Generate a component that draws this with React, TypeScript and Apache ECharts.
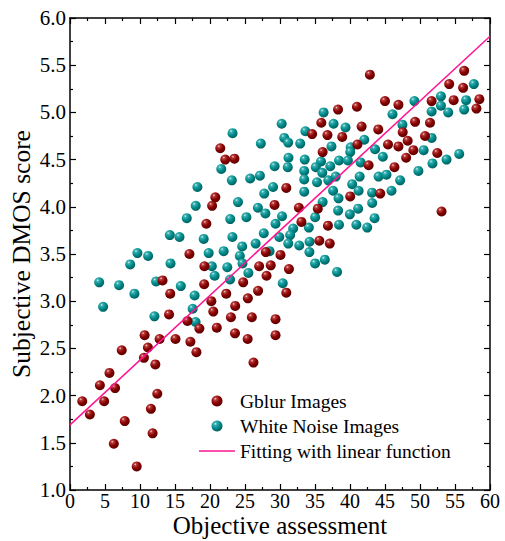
import React, { useEffect, useRef } from "react";
import * as echarts from "echarts";

const xTicks = { min: 0, max: 60, interval: 5 };
const yTicks = { min: 1, max: 6, interval: 0.5 };

const gblurPoints: [number, number][] = [
  [17.06, 3.5], [19.2, 3.37], [13.22, 3.22], [19.17, 3.18], [14.32, 3.08], [14.15, 2.86], [16.78, 2.79], [18.48, 2.71],
  [10.66, 2.64], [12.8, 2.6], [15.07, 2.6], [17.2, 2.57], [18.06, 2.46], [7.39, 2.48], [11.13, 2.51], [10.56, 2.4],
  [12.19, 2.33], [5.64, 2.24], [4.27, 2.11], [6.44, 2.08], [1.75, 1.94], [4.88, 1.94], [12.47, 2.02], [2.84, 1.8],
  [11.56, 1.86], [7.82, 1.73], [11.8, 1.6], [6.26, 1.49], [9.53, 1.25],
  [21.47, 4.62], [22.18, 4.5], [23.49, 4.51], [20.76, 4.1], [20.3, 4.01], [19.48, 3.82], [29.22, 4.02],
  [22.32, 3.08], [20.19, 3.0], [24.74, 3.2], [27.02, 3.37], [28.68, 3.38], [28.08, 3.27], [26.87, 3.11], [25.41, 3.03],
  [23.6, 2.95], [20.47, 2.89], [22.99, 2.83], [25.98, 2.83], [29.36, 2.81], [20.97, 2.72], [23.57, 2.66], [25.38, 2.6],
  [29.36, 2.64],
  [38.29, 5.03], [35.9, 4.89], [36.78, 4.76], [34.59, 4.77], [38.89, 4.74], [36.09, 4.58], [30.9, 4.2], [32.7, 3.99],
  [35.4, 3.98], [33.06, 3.84], [36.85, 3.8], [40.03, 4.11], [35.62, 3.64], [37.11, 3.61], [27.97, 3.52], [30.07, 3.49],
  [31.28, 3.34], [30.9, 3.09], [26.21, 2.35],
  [42.84, 5.4], [56.31, 5.44], [54.17, 5.3], [56.16, 5.26], [58.48, 5.14], [58.06, 5.04], [54.81, 5.13], [51.66, 5.12],
  [45.0, 5.12], [46.92, 5.08], [40.99, 5.06], [49.3, 4.9], [51.43, 4.89], [41.66, 4.85], [44.04, 4.82], [47.53, 4.79],
  [48.24, 4.7], [50.72, 4.75], [41.06, 4.66], [45.43, 4.66], [46.92, 4.64], [49.05, 4.6], [52.47, 4.57], [48.02, 4.52],
  [42.66, 4.44], [46.35, 4.42], [44.32, 4.14], [53.08, 3.95],
];

const noisePoints: [number, number][] = [
  [9.63, 3.51], [11.16, 3.48], [8.6, 3.39], [14.36, 3.4], [4.17, 3.2], [7.01, 3.17], [9.2, 3.08], [12.3, 3.21],
  [15.83, 3.16], [4.73, 2.94], [12.06, 2.84], [17.8, 3.06], [17.52, 2.92], [17.94, 2.78],
  [21.61, 4.4], [29.23, 4.43], [23.12, 4.28], [25.74, 4.3], [27.13, 4.33], [18.2, 4.21], [29.01, 4.21], [27.75, 4.14],
  [24.0, 4.05], [17.96, 4.01], [26.84, 3.99], [27.91, 3.93], [16.68, 3.88], [22.89, 3.87], [25.2, 3.89], [29.36, 3.82],
  [14.26, 3.7], [15.64, 3.68], [19.1, 3.66], [23.2, 3.68], [27.68, 3.72], [26.52, 3.61], [19.81, 3.51], [21.95, 3.53],
  [24.6, 3.58], [24.26, 3.48], [28.51, 3.53], [24.64, 3.4], [20.26, 3.37], [22.47, 3.36], [20.66, 3.27], [25.48, 3.3],
  [22.86, 3.23],
  [36.23, 5.0], [30.24, 4.88], [37.65, 4.88], [39.36, 4.84], [33.63, 4.8], [23.22, 4.78], [30.61, 4.73], [31.17, 4.68],
  [32.89, 4.67], [27.26, 4.67], [37.35, 4.64], [40.1, 4.63], [40.03, 4.58], [31.21, 4.52], [33.53, 4.5], [35.86, 4.48],
  [38.43, 4.49], [31.11, 4.42], [35.12, 4.42], [37.18, 4.43], [33.46, 4.38], [36.04, 4.36], [33.46, 4.29], [35.29, 4.26],
  [36.9, 4.28], [37.96, 4.32], [33.46, 4.16], [37.58, 4.17], [38.36, 4.09], [36.09, 4.05], [38.3, 3.96], [30.29, 3.9],
  [35.02, 3.89], [31.88, 3.77], [34.12, 3.78], [38.43, 3.81], [29.9, 3.68], [31.45, 3.7], [31.18, 3.61], [32.75, 3.59],
  [34.22, 3.63], [34.2, 3.52], [36.4, 3.44], [35.01, 3.4], [30.39, 3.19], [38.15, 3.31],
  [57.69, 5.3], [52.99, 5.17], [56.59, 5.13], [49.2, 5.12], [52.99, 5.07], [56.31, 5.03], [51.66, 5.01], [54.03, 5.0],
  [46.07, 4.98], [47.49, 4.87], [42.04, 4.71], [51.66, 4.73], [43.58, 4.61], [50.52, 4.6], [44.69, 4.53], [39.7, 4.49],
  [41.52, 4.47], [51.78, 4.46], [53.79, 4.5], [55.6, 4.56], [44.08, 4.32], [45.21, 4.34], [41.38, 4.32], [47.16, 4.28],
  [49.77, 4.38], [40.31, 4.24], [41.23, 4.17], [43.15, 4.15], [45.93, 4.17], [43.17, 4.04], [39.98, 3.92], [41.16, 3.98],
  [43.51, 3.88], [40.91, 3.81], [42.46, 3.78],
];

const fitIntercept = 1.69;
const fitSlope = 0.0686;
const fitXs = [0, 60];

const seriesNames = ["Gblur Images", "White Noise Images", "Fitting with linear function"];

const FONT = "Liberation Serif";

function sphere(light: string, mid: string, base: string, dark: string) {
  return new echarts.graphic.RadialGradient(0.35, 0.3, 0.75, [
    { offset: 0, color: light },
    { offset: 0.18, color: mid },
    { offset: 0.55, color: base },
    { offset: 1, color: dark },
  ]);
}

export default function App() {
  const ref = useRef<HTMLDivElement>(null);
  useEffect(() => {
    if (!ref.current) return;
    const chart = echarts.init(ref.current, undefined, { renderer: "svg" });
    const axisCommon = {
      axisLine: { show: true, onZero: false, lineStyle: { color: "#000", width: 1.5 } },
      axisTick: { show: true, inside: true, length: 6, lineStyle: { color: "#000", width: 1.2 } },
      minorTick: { show: true, splitNumber: 2, length: 3, lineStyle: { color: "#000", width: 1.2 } },
      splitLine: { show: false },
    };
    const redFill = sphere("#f0d0d0", "#b83a3a", "#870000", "#560000");
    const tealFill = sphere("#d8f4f4", "#3ab0b0", "#008a8a", "#005a5a");
    chart.setOption({
      animation: false,
      backgroundColor: "#fff",
      grid: { left: 70, right: 15, top: 18, bottom: 51, containLabel: false, outerBoundsMode: "none" },
      xAxis: [
        {
          type: "value",
          min: xTicks.min,
          max: xTicks.max,
          interval: xTicks.interval,
          position: "bottom",
          ...axisCommon,
          axisLabel: { color: "#000", fontFamily: FONT, fontSize: 20, margin: 1 },
          name: "Objective assessment",
          nameLocation: "middle",
          nameGap: 23,
          nameMoveOverlap: false,
          nameTextStyle: { color: "#000", fontFamily: FONT, fontSize: 25 },
        },
        {
          type: "value",
          min: xTicks.min,
          max: xTicks.max,
          interval: xTicks.interval,
          position: "top",
          ...axisCommon,
          axisLabel: { show: false },
        },
      ],
      yAxis: [
        {
          type: "value",
          min: yTicks.min,
          max: yTicks.max,
          interval: yTicks.interval,
          position: "left",
          ...axisCommon,
          axisLabel: {
            color: "#000",
            fontFamily: FONT,
            fontSize: 21,
            margin: 4,
            formatter: (v: number) => v.toFixed(1),
          },
          name: "Subjective DMOS score",
          nameLocation: "middle",
          nameGap: 36,
          nameMoveOverlap: false,
          nameTextStyle: { color: "#000", fontFamily: FONT, fontSize: 25.5 },
        },
        {
          type: "value",
          min: yTicks.min,
          max: yTicks.max,
          interval: yTicks.interval,
          position: "right",
          ...axisCommon,
          axisLabel: { show: false },
        },
      ],
      legend: {
        orient: "vertical",
        left: 194,
        top: 386,
        itemGap: 5,
        itemWidth: 36,
        itemHeight: 11,
        symbolKeepAspect: true,
        textStyle: { color: "#000", fontFamily: FONT, fontSize: 19.5 },
        data: [
          { name: seriesNames[0], icon: "circle" },
          { name: seriesNames[1], icon: "circle" },
          { name: seriesNames[2], icon: "path://M0,0L36,0L36,1.6L0,1.6Z" },
        ],
      },
      series: [
        {
          name: seriesNames[1],
          type: "scatter",
          data: noisePoints,
          symbol: "circle",
          symbolSize: 10,
          itemStyle: { color: tealFill, opacity: 1 },
          z: 2,
        },
        {
          name: seriesNames[0],
          type: "scatter",
          data: gblurPoints,
          symbol: "circle",
          symbolSize: 10,
          itemStyle: { color: redFill, opacity: 1 },
          z: 2,
        },
        {
          name: seriesNames[2],
          type: "line",
          data: fitXs.map((x) => [x, fitIntercept + fitSlope * x]),
          showSymbol: false,
          symbol: "none",
          lineStyle: { color: "#ff1493", width: 1.5 },
          itemStyle: { color: "#ff1493" },
          z: 3,
        },
      ],
    });
    return () => chart.dispose();
  }, []);
  return (
    <div
      ref={ref}
      style={{ position: "fixed", left: 0, top: 0, width: 505, height: 541, background: "#fff" }}
    />
  );
}
